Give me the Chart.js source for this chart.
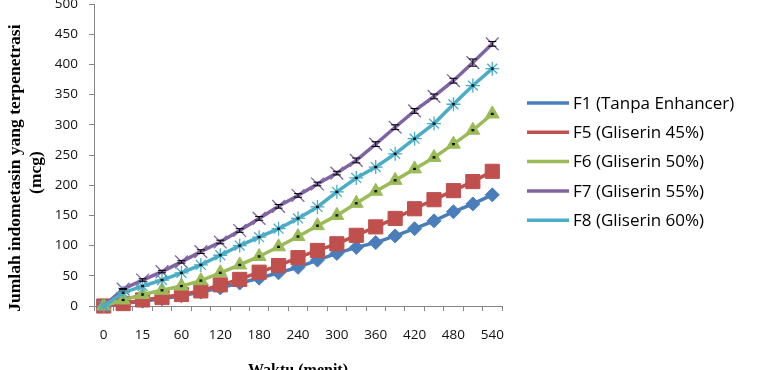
<!DOCTYPE html>
<html>
<head>
<meta charset="utf-8">
<script src="https://cdn.jsdelivr.net/npm/chart.js@4.4.1/dist/chart.umd.min.js"></script>
<style>
  html, body { margin: 0; padding: 0; background: #fff; overflow: hidden; }
  #wrap { width: 761px; height: 390px; }
</style>
</head>
<body>
<div id="wrap"><canvas id="c" width="761" height="390"></canvas></div>
<script>
// ---- data ----
const categories = ['0','5','15','30','60','90','120','150','180','210','240','270','300','330','360','390','420','450','480','510','540'];
const seriesNames = ['F1 (Tanpa Enhancer)', 'F5 (Gliserin 45%)', 'F6 (Gliserin 50%)', 'F7 (Gliserin 55%)', 'F8 (Gliserin 60%)'];
const f1 = [0, 4, 8, 12, 17, 23, 30, 38, 46, 55, 64, 76, 87, 97, 105, 116, 128, 141, 156, 169, 184];
const f5 = [0, 4, 10, 14, 19, 25, 35, 44, 56, 67, 80, 92, 103, 117, 131, 145, 161, 176, 191, 206, 223];
const f6 = [0, 10, 19, 26, 33, 42, 55, 68, 82, 98, 115, 133, 150, 170, 190, 208, 227, 246, 268, 291, 318];
const f7 = [0, 28, 43, 57, 73, 90, 106, 125, 145, 165, 183, 202, 220, 241, 268, 296, 323, 347, 373, 403, 434];
const f8 = [0, 22, 33, 43, 55, 68, 84, 100, 114, 128, 145, 164, 189, 212, 230, 252, 277, 302, 334, 365, 393];
const f7Err = [0, 1, 2, 2, 2, 3, 3, 3, 3, 3, 3, 3, 3, 4, 4, 4, 4, 4, 4, 6, 4];
const f8Err = [0, 1, 1, 1, 1, 1, 1, 1, 1, 1, 1, 1, 1, 1, 1, 1, 1, 1, 1, 1, 1];
const f6Err = [0, 1, 1, 1, 1, 1, 1, 1, 1, 1, 1, 1, 1, 1, 1, 1, 1, 1, 1, 1, 1];
const yTicks = [0, 50, 100, 150, 200, 250, 300, 350, 400, 450, 500];

const colors = ['#4A7EBB', '#C0504D', '#9BBB59', '#8064A2', '#4BACC6'];
const styles = ['rectRot', 'rect', 'triangle', 'crossRot', 'star'];
const radii = [7, 10, 8, 9, 7];
const pbw = [1, 1, 1, 1.3, 1.3];
const allData = [f1, f5, f6, f7, f8];
const allErr = [null, null, f6Err, f7Err, f8Err];

const datasets = allData.map((d, i) => ({
  label: seriesNames[i],
  data: d,
  borderColor: colors[i],
  backgroundColor: colors[i],
  borderWidth: 3.5,
  pointStyle: styles[i],
  pointRadius: radii[i],
  pointHoverRadius: radii[i],
  pointBorderWidth: pbw[i],
  pointBorderColor: colors[i],
  pointBackgroundColor: colors[i],
  tension: 0,
  clip: false,
  order: 5 - i
}));

const errorBars = {
  id: 'errorBars',
  afterDatasetsDraw(chart) {
    const ctx = chart.ctx;
    const ys = chart.scales.y;
    ctx.save();
    ctx.strokeStyle = '#000';
    ctx.lineWidth = 1;
    allErr.forEach((errs, di) => {
      if (!errs) return;
      const meta = chart.getDatasetMeta(di);
      meta.data.forEach((pt, k) => {
        const e = errs[k];
        if (!e) return;
        const v = allData[di][k];
        const yt = ys.getPixelForValue(v + e);
        const yb = ys.getPixelForValue(v - e);
        const hw = di === 3 ? 4 : 1.5;
        ctx.beginPath();
        ctx.moveTo(pt.x, yt); ctx.lineTo(pt.x, yb);
        ctx.moveTo(pt.x - hw, yt); ctx.lineTo(pt.x + hw, yt);
        ctx.moveTo(pt.x - hw, yb); ctx.lineTo(pt.x + hw, yb);
        ctx.stroke();
      });
    });
    ctx.restore();
  }
};

const customLegend = {
  id: 'customLegend',
  afterDraw(chart) {
    const ctx = chart.ctx;
    ctx.save();
    chart.data.datasets.forEach((ds, i) => {
      const y = 103 + i * 29.3;
      ctx.strokeStyle = ds.borderColor;
      ctx.lineWidth = 3.5;
      ctx.beginPath();
      ctx.moveTo(527, y); ctx.lineTo(569, y);
      ctx.stroke();
      ctx.fillStyle = ds.backgroundColor;
      ctx.strokeStyle = ds.borderColor;
      ctx.lineWidth = ds.pointBorderWidth;
      Chart.helpers.drawPoint(ctx, { pointStyle: ds.pointStyle, rotation: 0, borderWidth: ds.pointBorderWidth }, 548, y);
      ctx.fillStyle = '#000';
      ctx.font = '17px "Open Sans"';
      ctx.textBaseline = 'middle';
      ctx.textAlign = 'left';
      ctx.fillText(ds.label, 573, y + 1);
    });
    ctx.restore();
  }
};

new Chart(document.getElementById('c'), {
  type: 'line',
  data: { labels: categories, datasets: datasets },
  options: {
    responsive: false,
    animation: false,
    events: [],
    layout: { autoPadding: false, padding: { left: 0, right: 259, top: 4, bottom: 3 } },
    plugins: { legend: { display: false }, tooltip: { enabled: false } },
    scales: {
      x: {
        type: 'category',
        offset: true,
        grid: { display: true, offset: true, drawOnChartArea: false, drawTicks: true, tickLength: 5, color: '#868686' },
        border: { display: true, color: '#868686', width: 1 },
        ticks: {
          autoSkip: false, maxRotation: 0, minRotation: 0, padding: 16,
          color: '#111', font: { family: '"Open Sans"', size: 13.5 },
          callback: (v, i) => (i % 2 === 0 ? categories[i] : '')
        },
        title: {
          display: true, text: 'Waktu (menit)', color: '#000',
          font: { family: '"Liberation Serif"', size: 16, weight: 'bold', lineHeight: 1.2 },
          padding: { top: 0, bottom: 7 }
        },
        afterFit(s) { s.height = 81; s.paddingLeft = 0; s.paddingRight = 0; }
      },
      y: {
        min: 0, max: 500,
        afterBuildTicks(s) { s.ticks = yTicks.map(v => ({ value: v })); },
        grid: { display: true, drawOnChartArea: false, drawTicks: true, tickLength: 5, color: '#868686' },
        border: { display: true, color: '#868686', width: 1 },
        ticks: { padding: 11, color: '#111', font: { family: '"Open Sans"', size: 13.5 } },
        title: {
          display: true,
          text: ['Jumlah indometasin yang terpenetrasi      ', '(mcg)        '],
          color: '#000',
          font: { family: '"Liberation Serif"', size: 17.5, weight: 'bold', lineHeight: 1.2 },
          padding: { top: 4.5, bottom: 0 }
        },
        afterFit(s) { s.width = 94; s.paddingTop = 0; s.paddingBottom = 0; }
      }
    }
  },
  plugins: [errorBars, customLegend]
});
</script>
</body>
</html>
